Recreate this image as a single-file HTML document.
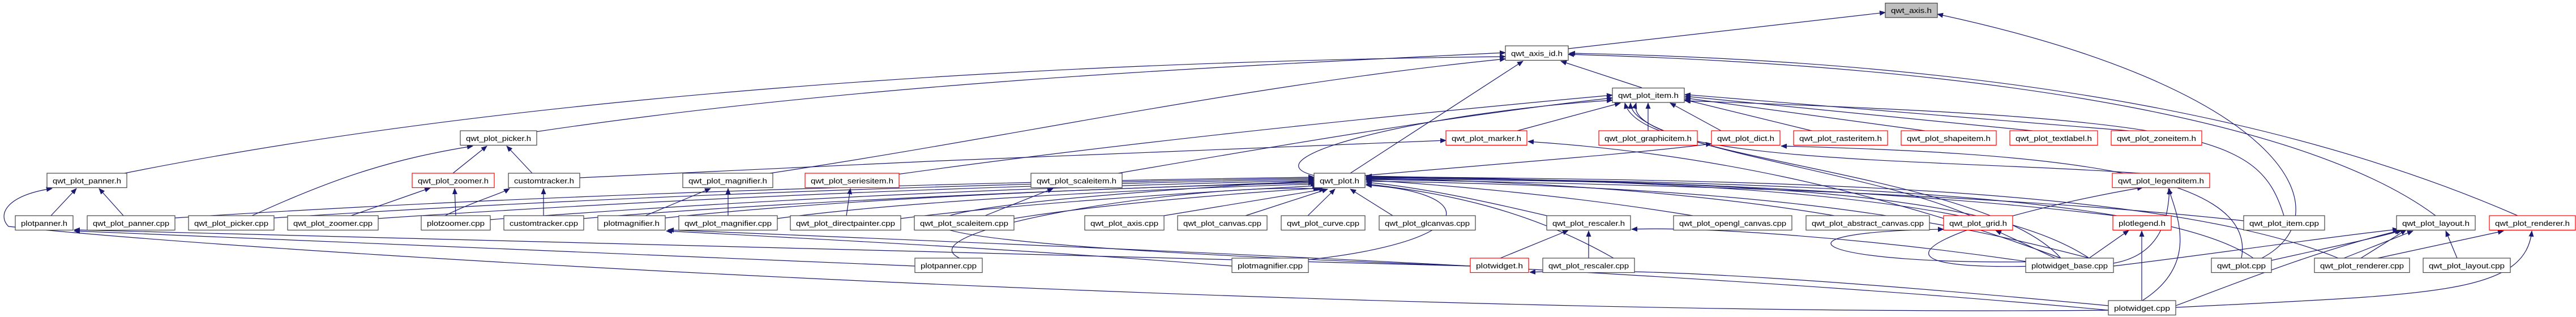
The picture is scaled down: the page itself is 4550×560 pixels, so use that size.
<!DOCTYPE html>
<html><head><meta charset="utf-8"><style>
html,body{margin:0;padding:0;background:#fff;width:4550px;height:560px;overflow:hidden}
svg{display:block}
text{font-family:"Liberation Sans",sans-serif;font-size:13px;fill:#000}
.e{fill:none;stroke:#191970;stroke-width:1.2}
.n rect{fill:#fff;stroke:#444;stroke-width:1.2}
.r rect{fill:#fff;stroke:#f00;stroke-width:1.2}
</style></head><body>
<svg width="4550" height="560" viewBox="0 0 4550 560" xmlns="http://www.w3.org/2000/svg">
<defs><marker id="a" markerWidth="11" markerHeight="9" refX="10" refY="4.5" orient="auto" markerUnits="userSpaceOnUse"><path d="M0,0 L11,4.5 L0,9z" fill="#191970"/></marker></defs>
<g class="e" marker-end="url(#a)">
<!-- to axis.h -->
<path d="M2770,86 L3330,22"/>
<path d="M3995,456 C4140,380 4050,160 3422,25"/>
<!-- to axis_id.h -->
<path d="M2900,155 L2757,108"/>
<path d="M2385,306 L2690,108"/>
<path d="M220,306 C900,170 1800,110 2659,100"/>
<path d="M945,233 C1500,150 2100,120 2659,93"/>
<path d="M1360,306 C1800,240 2200,150 2659,104"/>
<path d="M4302,381 C4100,230 3600,120 2770,96"/>
<path d="M4447,381 C4100,230 3600,110 2772,94"/>
<!-- to plot_item.h -->
<path d="M2680,231 L2862,182"/>
<path d="M2911,231 L2911,182"/>
<path d="M3040,231 L2950,182"/>
<path d="M3200,231 L2975,176"/>
<path d="M3400,231 L2976,173"/>
<path d="M3590,231 L2976,170"/>
<path d="M3760,231 L2976,167"/>
<path d="M1975,306 C2300,250 2600,200 2848,173"/>
<path d="M1585,308 C2000,250 2500,200 2848,168"/>
<path d="M2321,310 C2200,280 2500,200 2848,177"/>
<path d="M4034,381 C3990,240 3900,210 2976,178"/>
<path d="M3780,306 C3400,280 2900,290 2870,182"/>
<path d="M3480,381 C3300,300 2880,260 2880,182"/>
<path d="M3640,456 C3500,300 2860,280 2890,182"/>
<!-- marker, dict -->
<path d="M1024,314 C1500,290 2200,260 2554,248"/>
<path d="M3640,456 C3300,330 3000,270 2699,250"/>
<path d="M2411,310 C2700,285 2900,270 3023,254"/>
<path d="M3959,456 C3990,300 3600,270 3146,258"/>
<!-- picker.h -->
<path d="M800,306 L860,258"/>
<path d="M940,306 L895,258"/>
<path d="M445,381 C600,310 700,280 835,258"/>
<!-- zoomer, customtracker -->
<path d="M620,381 L760,332"/>
<path d="M805,381 L803,333"/>
<path d="M960,381 L960,333"/>
<path d="M760,395 C820,360 880,345 900,333"/>
<!-- panner.h -->
<path d="M90,381 L135,333"/>
<path d="M218,381 L175,333"/>
<path d="M3724,548 C2500,560 600,460 15,400 C-5,380 10,345 92,333"/>
<!-- magnifier.h -->
<path d="M1140,381 L1255,333"/>
<path d="M1286,381 L1286,333"/>
<!-- seriesitem, scaleitem -->
<path d="M1495,381 L1502,333"/>
<path d="M1740,381 L1860,333"/>
<!-- plot.h children -->
<path d="M309,385 C1000,340 1800,320 2321,313"/>
<path d="M484,385 C1100,345 1800,322 2321,315"/>
<path d="M668,386 C1200,350 1800,325 2321,317"/>
<path d="M866,388 C1300,355 1800,330 2321,319"/>
<path d="M1031,386 C1400,355 1900,335 2321,321"/>
<path d="M1175,385 C1500,350 2000,330 2321,323"/>
<path d="M1373,386 C1600,355 2000,335 2325,325"/>
<path d="M1591,386 C1800,360 2100,340 2328,328"/>
<path d="M1791,386 C1950,360 2200,340 2335,332"/>
<path d="M2056,381 L2340,334"/>
<path d="M2200,381 L2345,334"/>
<path d="M2310,381 L2358,334"/>
<path d="M2460,381 L2385,334"/>
<path d="M2732,381 C2600,350 2500,330 2413,322"/>
<path d="M2850,456 C2700,370 2550,340 2413,325"/>
<path d="M2990,381 C2800,350 2600,330 2413,318"/>
<path d="M3240,381 C3000,340 2700,320 2413,315"/>
<path d="M3460,381 C3200,330 2800,316 2413,313"/>
<path d="M3690,456 C3500,330 3000,320 2413,316"/>
<path d="M3690,456 C3400,380 3100,330 2413,320"/>
<path d="M3735,381 C3300,330 2800,318 2413,311"/>
<path d="M3980,456 C3800,330 3000,320 2413,314"/>
<path d="M4130,456 C3800,320 3000,318 2413,312"/>
<path d="M3963,390 C3500,340 2900,325 2413,317"/>
<path d="M1735,468 C1500,420 2100,320 2330,334"/>
<path d="M2280,462 C2620,430 2620,340 2413,327"/>
<path d="M2600,470 C1500,430 1300,380 2321,319"/>
<!-- lower rows -->
<path d="M1616,470 C1000,440 400,420 131,408"/>
<path d="M2597,470 C1800,450 800,420 131,406"/>
<path d="M2176,470 C1800,440 1400,420 1177,408"/>
<path d="M3724,548 C3000,480 2000,440 1180,406"/>
<path d="M2650,456 L2770,407"/>
<path d="M2806,456 L2806,408"/>
<path d="M3600,465 C3300,420 3000,400 2882,405"/>
<path d="M3724,540 C3300,500 2900,470 2702,481"/>
<path d="M3630,456 L3525,407"/>
<path d="M3690,456 L3760,407"/>
<path d="M3620,462 C3200,470 3100,410 3433,405"/>
<path d="M3600,470 C3200,480 3500,380 3785,331"/>
<path d="M3783,531 L3783,408"/>
<path d="M3733,465 C3820,450 3830,380 3832,333"/>
<path d="M3784,531 C3880,470 3850,390 3830,333"/>
<!-- layout.h, renderer.h -->
<path d="M4012,460 C4100,440 4200,420 4242,407"/>
<path d="M4140,456 L4262,408"/>
<path d="M4170,456 L4250,406"/>
<path d="M4340,456 L4320,408"/>
<path d="M4200,456 L4422,408"/>
<path d="M3843,540 C3950,500 4100,440 4240,407"/>
<path d="M3843,543 C4300,520 4460,520 4472,408"/>
<path d="M3733,470 C3900,450 4100,420 4236,405"/>
</g>
<g>
<g class="n"><rect x="3330" y="5.5" width="92" height="25.5" style="fill:#bfbfbf"/><text x="3340" y="23" textLength="72" lengthAdjust="spacingAndGlyphs">qwt_axis.h</text></g>
<g class="n"><rect x="2659" y="81" width="111" height="25.5"/><text x="2669" y="99" textLength="91" lengthAdjust="spacingAndGlyphs">qwt_axis_id.h</text></g>
<g class="n"><rect x="2848" y="155.5" width="127" height="25.5"/><text x="2858" y="173" textLength="107" lengthAdjust="spacingAndGlyphs">qwt_plot_item.h</text></g>
<g class="n"><rect x="813" y="231" width="135" height="25.5"/><text x="823" y="249" textLength="115" lengthAdjust="spacingAndGlyphs">qwt_plot_picker.h</text></g>
<g class="r"><rect x="2554" y="231" width="143" height="25.5"/><text x="2564" y="249" textLength="123" lengthAdjust="spacingAndGlyphs">qwt_plot_marker.h</text></g>
<g class="r"><rect x="2824" y="231" width="174" height="25.5"/><text x="2834" y="249" textLength="154" lengthAdjust="spacingAndGlyphs">qwt_plot_graphicitem.h</text></g>
<g class="r"><rect x="3023" y="231" width="121" height="25.5"/><text x="3033" y="249" textLength="101" lengthAdjust="spacingAndGlyphs">qwt_plot_dict.h</text></g>
<g class="r"><rect x="3168" y="231" width="166" height="25.5"/><text x="3178" y="249" textLength="146" lengthAdjust="spacingAndGlyphs">qwt_plot_rasteritem.h</text></g>
<g class="r"><rect x="3358" y="231" width="168" height="25.5"/><text x="3368" y="249" textLength="148" lengthAdjust="spacingAndGlyphs">qwt_plot_shapeitem.h</text></g>
<g class="r"><rect x="3550" y="231" width="155" height="25.5"/><text x="3560" y="249" textLength="135" lengthAdjust="spacingAndGlyphs">qwt_plot_textlabel.h</text></g>
<g class="r"><rect x="3729" y="231" width="160" height="25.5"/><text x="3739" y="249" textLength="140" lengthAdjust="spacingAndGlyphs">qwt_plot_zoneitem.h</text></g>
<g class="n"><rect x="83" y="306" width="141" height="25.5"/><text x="93" y="324" textLength="121" lengthAdjust="spacingAndGlyphs">qwt_plot_panner.h</text></g>
<g class="r"><rect x="728" y="306" width="145" height="25.5"/><text x="738" y="324" textLength="125" lengthAdjust="spacingAndGlyphs">qwt_plot_zoomer.h</text></g>
<g class="n"><rect x="898" y="306" width="126" height="25.5"/><text x="908" y="324" textLength="106" lengthAdjust="spacingAndGlyphs">customtracker.h</text></g>
<g class="n"><rect x="1206" y="306" width="159" height="25.5"/><text x="1216" y="324" textLength="139" lengthAdjust="spacingAndGlyphs">qwt_plot_magnifier.h</text></g>
<g class="r"><rect x="1422" y="306" width="166" height="25.5"/><text x="1432" y="324" textLength="146" lengthAdjust="spacingAndGlyphs">qwt_plot_seriesitem.h</text></g>
<g class="n"><rect x="1821" y="306" width="161" height="25.5"/><text x="1831" y="324" textLength="141" lengthAdjust="spacingAndGlyphs">qwt_plot_scaleitem.h</text></g>
<g class="n"><rect x="2321" y="306" width="90" height="25.5"/><text x="2331" y="324" textLength="70" lengthAdjust="spacingAndGlyphs">qwt_plot.h</text></g>
<g class="r"><rect x="3731" y="306" width="172" height="25.5"/><text x="3741" y="324" textLength="152" lengthAdjust="spacingAndGlyphs">qwt_plot_legenditem.h</text></g>
<g class="n"><rect x="27" y="381" width="102" height="25.5"/><text x="37" y="399" textLength="82" lengthAdjust="spacingAndGlyphs">plotpanner.h</text></g>
<g class="n"><rect x="154" y="381" width="155" height="25.5"/><text x="164" y="399" textLength="135" lengthAdjust="spacingAndGlyphs">qwt_plot_panner.cpp</text></g>
<g class="n"><rect x="333" y="381" width="151" height="25.5"/><text x="343" y="399" textLength="131" lengthAdjust="spacingAndGlyphs">qwt_plot_picker.cpp</text></g>
<g class="n"><rect x="508" y="381" width="160" height="25.5"/><text x="518" y="399" textLength="140" lengthAdjust="spacingAndGlyphs">qwt_plot_zoomer.cpp</text></g>
<g class="n"><rect x="744" y="381" width="122" height="25.5"/><text x="754" y="399" textLength="102" lengthAdjust="spacingAndGlyphs">plotzoomer.cpp</text></g>
<g class="n"><rect x="890" y="381" width="141" height="25.5"/><text x="900" y="399" textLength="121" lengthAdjust="spacingAndGlyphs">customtracker.cpp</text></g>
<g class="n"><rect x="1056" y="381" width="119" height="25.5"/><text x="1066" y="399" textLength="99" lengthAdjust="spacingAndGlyphs">plotmagnifier.h</text></g>
<g class="n"><rect x="1199" y="381" width="174" height="25.5"/><text x="1209" y="399" textLength="154" lengthAdjust="spacingAndGlyphs">qwt_plot_magnifier.cpp</text></g>
<g class="n"><rect x="1396" y="381" width="195" height="25.5"/><text x="1406" y="399" textLength="175" lengthAdjust="spacingAndGlyphs">qwt_plot_directpainter.cpp</text></g>
<g class="n"><rect x="1615" y="381" width="176" height="25.5"/><text x="1625" y="399" textLength="156" lengthAdjust="spacingAndGlyphs">qwt_plot_scaleitem.cpp</text></g>
<g class="n"><rect x="1916" y="381" width="140" height="25.5"/><text x="1926" y="399" textLength="120" lengthAdjust="spacingAndGlyphs">qwt_plot_axis.cpp</text></g>
<g class="n"><rect x="2080" y="381" width="158" height="25.5"/><text x="2090" y="399" textLength="138" lengthAdjust="spacingAndGlyphs">qwt_plot_canvas.cpp</text></g>
<g class="n"><rect x="2263" y="381" width="148" height="25.5"/><text x="2273" y="399" textLength="128" lengthAdjust="spacingAndGlyphs">qwt_plot_curve.cpp</text></g>
<g class="n"><rect x="2436" y="381" width="170" height="25.5"/><text x="2446" y="399" textLength="150" lengthAdjust="spacingAndGlyphs">qwt_plot_glcanvas.cpp</text></g>
<g class="n"><rect x="2732" y="381" width="148" height="25.5"/><text x="2742" y="399" textLength="128" lengthAdjust="spacingAndGlyphs">qwt_plot_rescaler.h</text></g>
<g class="n"><rect x="2956" y="381" width="209" height="25.5"/><text x="2966" y="399" textLength="189" lengthAdjust="spacingAndGlyphs">qwt_plot_opengl_canvas.cpp</text></g>
<g class="n"><rect x="3190" y="381" width="218" height="25.5"/><text x="3200" y="399" textLength="198" lengthAdjust="spacingAndGlyphs">qwt_plot_abstract_canvas.cpp</text></g>
<g class="r"><rect x="3433" y="381" width="122" height="25.5"/><text x="3443" y="399" textLength="102" lengthAdjust="spacingAndGlyphs">qwt_plot_grid.h</text></g>
<g class="r"><rect x="3732" y="381" width="103" height="25.5"/><text x="3742" y="399" textLength="83" lengthAdjust="spacingAndGlyphs">plotlegend.h</text></g>
<g class="n"><rect x="3963" y="381" width="143" height="25.5"/><text x="3973" y="399" textLength="123" lengthAdjust="spacingAndGlyphs">qwt_plot_item.cpp</text></g>
<g class="n"><rect x="4233" y="381" width="139" height="25.5"/><text x="4243" y="399" textLength="119" lengthAdjust="spacingAndGlyphs">qwt_plot_layout.h</text></g>
<g class="r"><rect x="4397" y="381" width="152" height="25.5"/><text x="4407" y="399" textLength="132" lengthAdjust="spacingAndGlyphs">qwt_plot_renderer.h</text></g>
<g class="n"><rect x="1616" y="456" width="119" height="25.5"/><text x="1626" y="474" textLength="99" lengthAdjust="spacingAndGlyphs">plotpanner.cpp</text></g>
<g class="n"><rect x="2176" y="456" width="135" height="25.5"/><text x="2186" y="474" textLength="115" lengthAdjust="spacingAndGlyphs">plotmagnifier.cpp</text></g>
<g class="r"><rect x="2597" y="456" width="103" height="25.5"/><text x="2607" y="474" textLength="83" lengthAdjust="spacingAndGlyphs">plotwidget.h</text></g>
<g class="n"><rect x="2725" y="456" width="162" height="25.5"/><text x="2735" y="474" textLength="142" lengthAdjust="spacingAndGlyphs">qwt_plot_rescaler.cpp</text></g>
<g class="n"><rect x="3578" y="456" width="155" height="25.5"/><text x="3588" y="474" textLength="135" lengthAdjust="spacingAndGlyphs">plotwidget_base.cpp</text></g>
<g class="n"><rect x="3906" y="456" width="106" height="25.5"/><text x="3916" y="474" textLength="86" lengthAdjust="spacingAndGlyphs">qwt_plot.cpp</text></g>
<g class="n"><rect x="4088" y="456" width="168" height="25.5"/><text x="4098" y="474" textLength="148" lengthAdjust="spacingAndGlyphs">qwt_plot_renderer.cpp</text></g>
<g class="n"><rect x="4280" y="456" width="154" height="25.5"/><text x="4290" y="474" textLength="134" lengthAdjust="spacingAndGlyphs">qwt_plot_layout.cpp</text></g>
<g class="n"><rect x="3724" y="531" width="119" height="25.5"/><text x="3734" y="549" textLength="99" lengthAdjust="spacingAndGlyphs">plotwidget.cpp</text></g>
</g>
</svg>
</body></html>
